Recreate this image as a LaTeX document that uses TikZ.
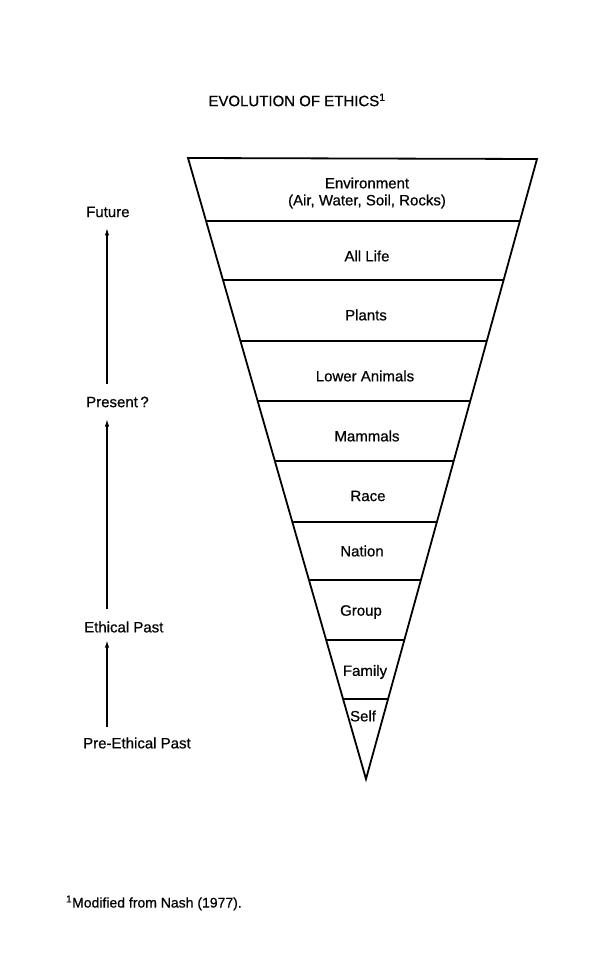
\documentclass[tikz,border=0pt]{standalone}
\usepackage{fontspec}
\setmainfont{Liberation Sans}
\newfontface\scanfont{Liberation Sans}[FakeBold=0.6]
\usetikzlibrary{calc,arrows.meta}
\begin{document}
\begin{tikzpicture}[x=1pt,y=-1pt,
  lvl/.style={font=\scanfont\fontsize{15}{17}\selectfont, align=center, inner sep=0pt},
  side/.style={font=\scanfont\fontsize{15}{17}\selectfont, anchor=west, inner sep=0pt},
  edge/.style={line width=1.8pt, line join=miter},
  divider/.style={line width=1.8pt},
  uparrow/.style={line width=1.9pt, -{Latex[length=8pt,width=4.5pt]}}]
\useasboundingbox (0,0) rectangle (596,957);
% triangle
\coordinate (TL) at (188,158);
\coordinate (TR) at (537,159);
\coordinate (A) at (366,779);
\draw[edge] (TL) -- (TR) -- (A) -- cycle;
\foreach \yy in {221,280,341,401,461,522,580,640,699} {
  \draw[divider] ($(TL)!{(\yy-158)/621}!(A)$) -- ($(TR)!{(\yy-159)/620}!(A)$);
}
% title
\node[font=\scanfont\fontsize{15}{17}\selectfont, inner sep=0pt] (title) at (297,100) {EVOLUTION OF ETHICS\textsuperscript{1}};
% level labels
\node[lvl] (env) at (367,193) {Environment\\(Air, Water, Soil, Rocks)};
\node[lvl] (alllife) at (367,256) {All Life};
\node[lvl] (plants) at (366,315) {Plants};
\node[lvl] (lower) at (365,376) {Lower Animals};
\node[lvl] (mammals) at (367,436) {Mammals};
\node[lvl] (race) at (368,496) {Race};
\node[lvl] (nation) at (362,551) {Nation};
\node[lvl] (group) at (361,612) {Group};
\node[lvl] (family) at (365,672) {Family};
\node[lvl] (self) at (363,716) {Self};
% time labels
\node[side] (future) at (86,212) {Future};
\node[side] (present) at (86,402) {Present\,?};
\node[side] (ethical) at (84,627) {Ethical Past};
\node[side] (pre) at (83,743) {Pre-Ethical Past};
\coordinate (ax) at (107,0);
\draw[uparrow, shorten <=12pt, shorten >=10pt] (present.north -| ax) -- (future.south -| ax);
\draw[uparrow, shorten <=12pt, shorten >=11pt] (ethical.north -| ax) -- (present.south -| ax);
\draw[uparrow, shorten <=10pt, shorten >=7pt] (pre.north -| ax) -- (ethical.south -| ax);
% footnote
\node[font=\scanfont\fontsize{14}{16}\selectfont, anchor=west, inner sep=0pt] (foot) at (66,903) {\textsuperscript{1}Modified from Nash (1977).};
\end{tikzpicture}
\end{document}
